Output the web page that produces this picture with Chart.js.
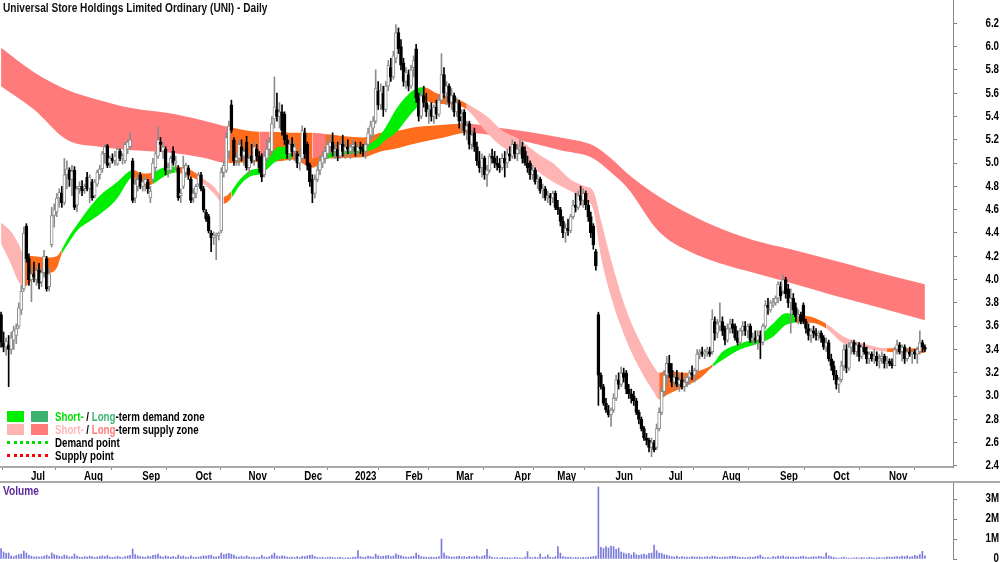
<!DOCTYPE html>
<html>
<head>
<meta charset="utf-8">
<script src="https://cdn.jsdelivr.net/npm/chart.js@4.4.1/dist/chart.umd.min.js"></script>
<style>
  body { margin: 0; background: #fff; }
  #wrap { position: relative; width: 1000px; height: 562px; overflow: hidden; background: #fff;
          font-family: 'Liberation Sans', Arial, sans-serif; font-weight: bold; }
  #price { position: absolute; left: 0; top: 0; }
  #volBox { position: absolute; left: 0; top: 481px; width: 1000px; height: 81px;
            border-top: 2px solid #a9a9a9; box-sizing: border-box; }
  #vol { display: block; }
  .narrow { display: inline-block; transform: scaleX(0.81); transform-origin: 0 50%; white-space: nowrap; }
  #title { position: absolute; left: 3px; top: 1px; font-size: 12.5px; color: #111; white-space: nowrap; }
  #volTitle { position: absolute; left: 3px; top: 484px; font-size: 12.5px; color: #5a2a9a; }
  #legend { position: absolute; left: 7px; top: 410px; font-size: 12px; color: #000; }
  .row { height: 13px; display: flex; align-items: center; white-space: nowrap; }
  .box { width: 17px; height: 11px; margin-right: 7px; }
  .dots { width: 41px; height: 0; margin-right: 7px; border-top: 3px dotted; }
</style>
</head>
<body>
<div id="wrap">
  <canvas id="price" width="1000" height="481"></canvas>
  <div id="volBox"><canvas id="vol" width="1000" height="79"></canvas></div>
  <div id="title"><span class="narrow">Universal Store Holdings Limited Ordinary (UNI) - Daily</span></div>
  <div id="volTitle"><span class="narrow">Volume</span></div>
  <div id="legend">
    <div class="row"><div class="box" style="background:#00ee00"></div><div class="box" style="background:#3cb371"></div>
      <span class="narrow"><span style="color:#00dd00">Short-</span> / <span style="color:#3cb371">Long</span>-term demand zone</span></div>
    <div class="row"><div class="box" style="background:#ffb4b4"></div><div class="box" style="background:#ff7b7b"></div>
      <span class="narrow"><span style="color:#ffb4b4">Short-</span> / <span style="color:#ff7b7b">Long</span>-term supply zone</span></div>
    <div class="row"><div class="dots" style="border-color:#00dd00"></div><span class="narrow">Demand point</span></div>
    <div class="row"><div class="dots" style="border-color:#ff0000"></div><span class="narrow">Supply point</span></div>
  </div>
</div>
<script>
// trading days shown (ASX calendar)
const firstDay = '2022-06-16';
const lastDay = '2023-11-22';
const holidays = ['2022-09-22', '2022-12-26', '2022-12-27', '2023-01-02', '2023-01-26',
                  '2023-04-07', '2023-04-10', '2023-04-25', '2023-06-12'];
const monthNames = ['Jan', 'Feb', 'Mar', 'Apr', 'May', 'Jun', 'Jul', 'Aug', 'Sep', 'Oct', 'Nov', 'Dec'];

const opens = [
  3.70,3.46,3.42,3.44,3.40,3.48,3.52,3.60,3.74,3.92, 4.46,4.18,4.00,4.05,4.00,4.08,3.98,4.06,4.18,3.94,
  4.30,4.55,4.58,4.70,4.74,4.66,4.90,4.94,4.86,4.94, 4.64,4.78,4.80,4.78,4.88,4.78,4.84,4.72,4.82,4.90,
  4.95,5.08,5.15,5.00,5.04,5.02,4.99,5.10,5.04,5.02, 5.12,5.14,5.02,4.70,4.80,4.90,4.80,4.82,4.84,4.70,
  4.86,4.96,5.06,5.18,5.10,5.12,4.94,4.94,5.10,5.00, 4.96,4.72,4.80,4.92,4.96,4.86,4.70,4.74,4.82,4.90,
  4.78,4.58,4.54,4.40,4.36,4.38,4.38,4.42,4.92,4.94, 5.10,5.50,5.20,5.02,5.04,5.14,5.06,5.18,4.96,5.06,
  5.02,5.12,5.06,5.06,4.90,5.04,5.12,5.10,5.38,5.46, 5.40,5.44,5.42,5.20,5.08,5.16,5.10,5.08,5.00,5.04,
  5.26,5.16,4.98,4.86,4.74,4.86,4.94,5.00,5.04,5.08, 5.14,5.18,5.10,5.12,5.06,5.16,5.10,5.14,5.10,5.14,
  5.14,5.10,5.14,5.12,5.10,5.16,5.24,5.30,5.36,5.62, 5.50,5.60,5.46,5.66,5.82,5.74,5.90,6.12,6.00,5.86,
  5.70,5.76,5.66,5.82,5.98,5.56,5.40,5.58,5.52,5.44, 5.46,5.40,5.48,5.42,5.54,5.76,5.60,5.66,5.52,5.58,
  5.44,5.52,5.40,5.44,5.28,5.34,5.16,5.26,5.14,5.02, 4.96,5.04,4.90,4.94,5.06,5.04,5.00,4.98,4.96,5.04,
  5.00,5.08,5.06,5.16,5.08,5.12,5.14,5.10,5.00,5.00, 4.90,4.94,4.84,4.86,4.76,4.78,4.70,4.72,4.70,4.74,
  4.62,4.60,4.50,4.40,4.44,4.42,4.54,4.64,4.62,4.72, 4.68,4.74,4.64,4.54,4.46,4.24,3.70,3.18,3.08,2.94,
  2.88,2.84,2.88,2.98,3.14,3.10,3.20,3.20,3.06,3.02, 3.00,2.96,2.86,2.80,2.72,2.64,2.62,2.56,2.60,2.56,
  2.72,2.86,3.04,3.18,3.28,3.22,3.12,3.16,3.10,3.14, 3.08,3.12,3.16,3.20,3.18,3.22,3.36,3.38,3.36,3.38,
  3.38,3.38,3.64,3.54,3.60,3.64,3.58,3.48,3.58,3.62, 3.60,3.50,3.46,3.56,3.60,3.56,3.60,3.48,3.50,3.48,
  3.52,3.46,3.60,3.78,3.74,3.78,3.80,3.84,3.94,3.90, 4.00,3.92,3.80,3.84,3.76,3.68,3.70,3.78,3.64,3.58,
  3.52,3.56,3.54,3.52,3.54,3.50,3.42,3.46,3.32,3.26, 3.18,3.10,3.14,3.26,3.40,3.24,3.42,3.46,3.38,3.44,
  3.34,3.42,3.38,3.32,3.36,3.32,3.34,3.30,3.32,3.34, 3.28,3.30,3.28,3.26,3.40,3.44,3.38,3.42,3.32,3.38,
  3.36,3.38,3.36,3.38,3.46,3.42
];
const highs = [
  3.72,3.55,3.50,3.52,3.55,3.60,3.62,3.80,3.95,4.45, 4.48,4.22,4.10,4.15,4.12,4.14,4.10,4.25,4.20,4.10,
  4.62,4.65,4.74,4.78,4.80,5.04,5.02,4.96,4.98,4.97, 4.80,4.84,4.85,4.82,4.92,4.90,4.86,4.86,4.94,4.98,
  5.10,5.16,5.16,5.06,5.08,5.10,5.14,5.12,5.08,5.18, 5.20,5.26,5.04,4.86,4.90,4.92,4.86,4.88,4.86,4.80,
  5.04,5.10,5.31,5.22,5.18,5.14,5.00,5.06,5.14,5.06, 4.98,4.78,5.06,5.00,4.98,4.88,4.78,4.82,4.92,4.92,
  4.80,4.60,4.56,4.42,4.41,4.40,4.41,4.96,5.02,5.26, 5.36,5.54,5.22,5.08,5.20,5.20,5.12,5.23,5.08,5.16,
  5.18,5.16,5.10,5.08,5.10,5.20,5.22,5.40,5.74,5.60, 5.52,5.50,5.44,5.24,5.20,5.22,5.18,5.10,5.12,5.32,
  5.30,5.18,5.00,4.90,4.90,4.98,5.06,5.10,5.14,5.20, 5.24,5.26,5.16,5.18,5.20,5.24,5.18,5.20,5.16,5.20,
  5.18,5.16,5.18,5.16,5.18,5.30,5.36,5.40,5.80,5.70, 5.68,5.66,5.70,5.88,5.90,5.96,6.19,6.16,6.06,5.90,
  5.82,5.80,5.84,5.92,6.02,5.60,5.62,5.66,5.60,5.50, 5.52,5.50,5.54,5.58,5.94,5.82,5.70,5.68,5.64,5.60,
  5.56,5.54,5.46,5.46,5.36,5.36,5.28,5.30,5.18,5.10, 5.08,5.06,4.98,5.08,5.12,5.10,5.06,5.04,5.08,5.10,
  5.12,5.14,5.20,5.18,5.16,5.20,5.18,5.14,5.06,5.02, 4.98,4.96,4.90,4.88,4.82,4.80,4.76,4.74,4.76,4.76,
  4.68,4.62,4.54,4.48,4.52,4.56,4.68,4.74,4.76,4.80, 4.78,4.76,4.68,4.58,4.48,4.26,3.72,3.20,3.10,2.98,
  2.92,2.90,3.02,3.18,3.20,3.25,3.24,3.22,3.10,3.06, 3.04,2.98,2.88,2.82,2.74,2.68,2.64,2.64,2.62,2.76,
  2.90,3.08,3.22,3.34,3.35,3.28,3.20,3.22,3.18,3.20, 3.16,3.18,3.22,3.26,3.24,3.40,3.40,3.42,3.40,3.42,
  3.42,3.74,3.68,3.66,3.80,3.68,3.60,3.62,3.66,3.66, 3.62,3.56,3.58,3.64,3.64,3.62,3.62,3.54,3.56,3.56,
  3.56,3.62,3.82,3.84,3.82,3.84,3.86,3.98,3.98,4.04, 4.02,3.96,3.92,3.88,3.80,3.74,3.72,3.80,3.66,3.62,
  3.58,3.60,3.58,3.56,3.56,3.52,3.50,3.48,3.36,3.30, 3.22,3.16,3.30,3.44,3.44,3.46,3.48,3.48,3.46,3.46,
  3.44,3.46,3.42,3.38,3.38,3.40,3.38,3.36,3.38,3.36, 3.34,3.32,3.32,3.42,3.48,3.46,3.44,3.44,3.40,3.42,
  3.40,3.40,3.42,3.56,3.48,3.44
];
const lows = [
  3.42,3.38,3.35,3.08,3.36,3.40,3.45,3.58,3.70,3.90, 4.15,3.95,3.81,3.98,3.95,3.92,3.94,4.02,3.90,3.90,
  4.28,4.45,4.54,4.62,4.62,4.64,4.78,4.80,4.72,4.60, 4.58,4.74,4.72,4.74,4.76,4.66,4.68,4.70,4.80,4.86,
  4.92,5.00,4.96,4.96,5.00,4.98,4.98,5.02,4.99,5.00, 5.08,5.12,4.66,4.66,4.76,4.78,4.76,4.76,4.74,4.66,
  4.84,4.92,5.04,5.10,5.04,4.90,4.88,4.92,4.98,4.94, 4.68,4.66,4.78,4.88,4.86,4.66,4.66,4.70,4.80,4.76,
  4.58,4.50,4.40,4.24,4.30,4.17,4.34,4.40,4.88,4.92, 5.04,5.26,4.98,4.98,4.98,5.02,4.98,4.94,4.90,5.00,
  4.98,5.02,4.92,4.84,4.88,5.02,5.06,5.08,5.30,5.36, 5.30,5.24,5.16,5.04,5.02,5.06,5.02,4.96,4.94,5.02,
  5.04,4.94,4.80,4.66,4.70,4.84,4.90,4.96,5.00,5.04, 5.08,5.06,5.04,5.02,5.04,5.06,5.04,5.08,5.04,5.08,
  5.06,5.06,5.08,5.06,5.04,5.14,5.20,5.22,5.34,5.46, 5.46,5.40,5.44,5.62,5.70,5.72,5.86,5.94,5.80,5.66,
  5.64,5.62,5.64,5.74,5.52,5.36,5.38,5.48,5.40,5.34, 5.36,5.34,5.38,5.40,5.52,5.56,5.50,5.48,5.46,5.40,
  5.40,5.30,5.26,5.24,5.20,5.12,5.12,5.10,4.98,4.92, 4.88,4.86,4.80,4.92,5.00,4.96,4.94,4.92,4.94,4.88,
  4.96,5.02,5.04,5.04,5.02,5.08,5.00,4.98,4.92,4.86, 4.86,4.82,4.78,4.74,4.70,4.68,4.66,4.64,4.66,4.60,
  4.56,4.46,4.36,4.32,4.38,4.40,4.52,4.58,4.60,4.64, 4.62,4.60,4.50,4.36,4.26,4.08,2.92,3.06,2.92,2.86,
  2.82,2.74,2.86,2.96,3.06,3.08,3.12,3.02,2.98,2.94, 2.92,2.84,2.76,2.70,2.62,2.58,2.52,2.48,2.52,2.54,
  2.70,2.84,3.00,3.10,3.16,3.08,3.06,3.08,3.04,3.06, 3.04,3.08,3.10,3.14,3.12,3.20,3.32,3.34,3.32,3.34,
  3.34,3.36,3.48,3.50,3.56,3.52,3.44,3.46,3.54,3.54, 3.48,3.44,3.44,3.52,3.52,3.50,3.46,3.44,3.46,3.40,
  3.32,3.44,3.58,3.70,3.72,3.76,3.78,3.80,3.82,3.88, 3.84,3.76,3.54,3.70,3.64,3.62,3.62,3.62,3.54,3.48,
  3.46,3.50,3.48,3.48,3.46,3.40,3.38,3.30,3.22,3.14, 3.06,3.03,3.12,3.22,3.20,3.22,3.36,3.36,3.34,3.30,
  3.32,3.36,3.28,3.28,3.30,3.28,3.26,3.24,3.28,3.24, 3.24,3.26,3.24,3.26,3.36,3.36,3.30,3.28,3.30,3.34,
  3.28,3.32,3.28,3.36,3.38,3.38
];
const closes = [
  3.46,3.42,3.47,3.40,3.50,3.56,3.58,3.76,3.90,4.40, 4.18,4.00,4.05,4.02,4.08,3.97,4.06,4.20,3.92,4.05,
  4.55,4.60,4.70,4.75,4.66,4.90,4.95,4.86,4.93,4.62, 4.78,4.80,4.76,4.80,4.78,4.88,4.70,4.84,4.92,4.95,
  5.08,5.14,4.98,5.04,5.02,5.06,5.12,5.04,5.06,5.16, 5.18,5.20,4.68,4.82,4.86,4.80,4.84,4.86,4.78,4.76,
  5.00,5.08,5.20,5.16,5.14,4.94,4.96,5.04,5.00,5.02, 4.70,4.74,4.96,4.98,4.90,4.68,4.74,4.80,4.90,4.78,
  4.60,4.52,4.42,4.36,4.38,4.39,4.40,4.92,4.98,5.22, 5.32,5.28,5.02,5.05,5.16,5.06,5.10,4.96,5.04,5.02,
  5.14,5.06,4.96,4.88,5.06,5.12,5.18,5.34,5.48,5.40, 5.44,5.28,5.20,5.08,5.16,5.10,5.14,5.00,5.06,5.28,
  5.08,4.98,4.84,4.74,4.86,4.94,5.02,5.06,5.10,5.16, 5.18,5.10,5.12,5.06,5.16,5.10,5.14,5.12,5.14,5.16,
  5.10,5.14,5.12,5.10,5.16,5.26,5.32,5.36,5.64,5.50, 5.62,5.46,5.66,5.84,5.74,5.92,6.12,5.98,5.84,5.70,
  5.78,5.66,5.80,5.88,5.56,5.40,5.58,5.52,5.44,5.46, 5.40,5.48,5.42,5.54,5.76,5.60,5.66,5.52,5.58,5.44,
  5.52,5.36,5.42,5.28,5.32,5.16,5.24,5.14,5.02,4.96, 5.04,4.90,4.94,5.06,5.04,5.00,4.98,4.96,5.04,5.00,
  5.08,5.06,5.16,5.08,5.12,5.14,5.04,5.00,4.96,4.90, 4.94,4.84,4.86,4.76,4.78,4.70,4.72,4.70,4.74,4.62,
  4.60,4.50,4.40,4.44,4.42,4.54,4.64,4.62,4.72,4.68, 4.74,4.64,4.54,4.40,4.30,4.12,3.18,3.08,2.94,2.88,
  2.84,2.88,2.98,3.14,3.10,3.20,3.16,3.06,3.02,2.98, 2.96,2.86,2.80,2.72,2.64,2.62,2.56,2.60,2.54,2.72,
  2.86,3.04,3.18,3.28,3.20,3.12,3.16,3.10,3.14,3.08, 3.12,3.16,3.20,3.18,3.22,3.36,3.38,3.36,3.38,3.40,
  3.36,3.66,3.54,3.62,3.64,3.56,3.48,3.58,3.62,3.58, 3.50,3.46,3.56,3.60,3.56,3.60,3.48,3.50,3.48,3.52,
  3.46,3.60,3.78,3.76,3.80,3.80,3.84,3.96,3.86,4.00, 3.88,3.80,3.84,3.74,3.68,3.70,3.64,3.64,3.58,3.52,
  3.56,3.54,3.52,3.54,3.50,3.42,3.46,3.32,3.26,3.18, 3.10,3.14,3.26,3.40,3.24,3.42,3.46,3.38,3.44,3.34,
  3.42,3.38,3.32,3.36,3.32,3.34,3.30,3.32,3.34,3.28, 3.30,3.28,3.26,3.40,3.44,3.38,3.42,3.32,3.38,3.36,
  3.38,3.36,3.40,3.46,3.42,3.40
];
// daily volume, millions of shares
const volumes = [
  0.52,0.35,0.28,0.30,0.15,0.12,0.18,0.22,0.25,0.40, 0.30,0.18,0.14,0.10,0.12,0.09,0.11,0.15,0.20,0.12,
  0.30,0.22,0.18,0.14,0.12,0.20,0.16,0.10,0.12,0.25, 0.14,0.10,0.08,0.12,0.10,0.15,0.12,0.08,0.10,0.13,
  0.16,0.12,0.18,0.09,0.08,0.10,0.14,0.09,0.07,0.12, 0.15,0.18,0.50,0.22,0.16,0.12,0.10,0.09,0.14,0.12,
  0.18,0.20,0.25,0.14,0.10,0.16,0.12,0.10,0.13,0.09, 0.20,0.12,0.15,0.10,0.08,0.16,0.09,0.08,0.10,0.12,
  0.16,0.14,0.18,0.20,0.12,0.10,0.14,0.30,0.22,0.25, 0.28,0.24,0.20,0.12,0.10,0.14,0.09,0.16,0.10,0.08,
  0.10,0.07,0.09,0.18,0.10,0.08,0.12,0.20,0.30,0.14, 0.12,0.16,0.14,0.10,0.08,0.09,0.07,0.12,0.08,0.14,
  0.12,0.16,0.18,0.20,0.12,0.08,0.07,0.09,0.06,0.08, 0.10,0.08,0.06,0.07,0.09,0.06,0.05,0.07,0.06,0.08,
  0.10,0.42,0.12,0.08,0.10,0.14,0.12,0.10,0.24,0.16, 0.12,0.14,0.16,0.18,0.12,0.15,0.26,0.20,0.16,0.12,
  0.10,0.09,0.12,0.14,0.30,0.20,0.12,0.10,0.09,0.08, 0.10,0.08,0.09,0.12,1.00,0.30,0.16,0.12,0.10,0.09,
  0.12,0.14,0.10,0.12,0.09,0.14,0.10,0.12,0.16,0.10, 0.12,0.18,0.48,0.14,0.08,0.06,0.07,0.05,0.08,0.06,
  0.07,0.06,0.05,0.08,0.07,0.06,0.05,0.09,0.37,0.08, 0.06,0.09,0.07,0.25,0.08,0.10,0.20,0.09,0.07,0.12,
  0.62,0.30,0.12,0.10,0.08,0.09,0.06,0.08,0.07,0.06, 0.08,0.07,0.09,0.10,0.12,0.14,3.60,0.58,0.52,0.62,
  0.55,0.65,0.62,0.48,0.55,0.35,0.30,0.25,0.28,0.20, 0.32,0.22,0.18,0.22,0.25,0.20,0.28,0.30,0.70,0.42,
  0.30,0.28,0.22,0.20,0.15,0.12,0.10,0.14,0.08,0.12, 0.10,0.09,0.08,0.12,0.10,0.09,0.11,0.08,0.10,0.12,
  0.09,0.14,0.12,0.10,0.08,0.09,0.11,0.10,0.12,0.14, 0.13,0.10,0.08,0.09,0.07,0.08,0.10,0.09,0.12,0.14,
  0.20,0.10,0.06,0.08,0.05,0.12,0.10,0.14,0.12,0.16, 0.10,0.12,0.09,0.11,0.08,0.10,0.12,0.14,0.09,0.08,
  0.10,0.12,0.09,0.14,0.12,0.10,0.30,0.16,0.12,0.08, 0.06,0.05,0.07,0.09,0.06,0.05,0.04,0.06,0.07,0.05,
  0.08,0.06,0.05,0.09,0.07,0.05,0.06,0.08,0.06,0.07, 0.09,0.10,0.08,0.11,0.12,0.10,0.14,0.12,0.16,0.10,
  0.12,0.18,0.15,0.22,0.38,0.16
];

// long-term zone edges (day index -> price)
const longIdx = [0, 13, 26, 39, 52, 66, 79, 90, 102, 106, 117, 123, 128, 143, 150, 157, 164, 175, 184, 194,
                 208, 221, 234, 241, 247, 260, 272, 284, 297, 312, 328, 345, 365];
const longTop = [5.99, 5.78, 5.63, 5.54, 5.47, 5.43, 5.37, 5.31, 5.27, 5.27, 5.26, 5.26, 5.25, 5.22, 5.26, 5.28,
                 5.31, 5.33, 5.34, 5.31, 5.27, 5.22, 5.15, 5.04, 4.92, 4.71, 4.56, 4.44, 4.34, 4.26, 4.17, 4.07, 3.96];
const longBot = [5.66, 5.46, 5.20, 5.14, 5.11, 5.09, 5.05, 5.00, 5.01, 5.01, 5.03, 5.03, 5.04, 5.05, 5.10, 5.13,
                 5.17, 5.22, 5.26, 5.24, 5.18, 5.11, 5.04, 4.92, 4.80, 4.41, 4.24, 4.14, 4.06, 3.97, 3.87, 3.77, 3.65];
const longZoneStart = [0, 90, 102, 106, 123, 128, 184];
const longZoneType = ['supply', 'neutral', 'supply', 'neutral', 'supply', 'neutral', 'supply'];

// short-term zone edges
const shortIdx = [0, 4, 7, 9, 13, 18, 22, 24, 26, 30, 35, 39, 46, 50, 52, 56, 60, 64, 69, 75, 79, 84, 88, 91, 94,
                  98, 103, 110, 115, 123, 128, 135, 142, 146, 149, 152, 156, 160, 164, 167, 172, 179, 184, 192,
                  198, 205, 212, 218, 225, 231, 234, 237, 241, 247, 254, 258, 260, 263, 270, 276, 281, 285, 292,
                  299, 305, 310, 314, 320, 326, 333, 341, 350, 358, 365];
const shortTop = [4.49, 4.41, 4.30, 4.21, 4.20, 4.19, 4.20, 4.26, 4.34, 4.47, 4.62, 4.72, 4.84, 4.92, 4.94, 4.91,
                  4.92, 4.96, 4.97, 4.94, 4.88, 4.80, 4.71, 4.76, 4.85, 4.93, 4.97, 5.14, 5.14, 5.04, 5.08, 5.12,
                  5.14, 5.17, 5.22, 5.31, 5.46, 5.57, 5.64, 5.65, 5.60, 5.56, 5.51, 5.40, 5.28, 5.20, 5.08, 5.00,
                  4.86, 4.80, 4.76, 4.51, 4.17, 3.74, 3.40, 3.25, 3.20, 3.22, 3.20, 3.22, 3.27, 3.38, 3.45, 3.51,
                  3.62, 3.71, 3.70, 3.68, 3.62, 3.51, 3.45, 3.41, 3.41, 3.41];
const shortBot = [4.31, 4.13, 3.98, 3.94, 4.01, 4.05, 4.10, 4.22, 4.29, 4.42, 4.50, 4.56, 4.70, 4.84, 4.88, 4.80,
                  4.82, 4.88, 4.92, 4.88, 4.84, 4.74, 4.65, 4.70, 4.80, 4.88, 4.91, 5.03, 5.04, 4.96, 5.03, 5.07,
                  5.09, 5.11, 5.14, 5.20, 5.26, 5.37, 5.47, 5.53, 5.51, 5.50, 5.46, 5.26, 5.14, 5.07, 4.93, 4.84,
                  4.76, 4.68, 4.60, 4.20, 3.85, 3.48, 3.17, 3.03, 2.97, 3.01, 3.08, 3.15, 3.25, 3.31, 3.40, 3.45,
                  3.51, 3.61, 3.63, 3.63, 3.58, 3.45, 3.41, 3.38, 3.37, 3.37];
const shortZoneStart = [0, 9, 24, 52, 60, 69, 79, 88, 91, 115, 128, 167, 184, 260, 281, 314, 326, 350];
const shortZoneType = ['supply', 'neutral', 'demand', 'neutral', 'demand', 'neutral', 'supply', 'neutral', 'demand',
                       'neutral', 'demand', 'neutral', 'supply', 'neutral', 'demand', 'neutral', 'supply', 'neutral'];

const priceTicks = [2.4, 2.6, 2.8, 3.0, 3.2, 3.4, 3.6, 3.8, 4.0, 4.2, 4.4, 4.6, 4.8, 5.0, 5.2, 5.4, 5.6, 5.8, 6.0, 6.2];
const volumeTicks = [0, 1, 2, 3];

function tradingDays(from, to, skip) {
  const out = [];
  const d = new Date(from + 'T00:00:00Z');
  const end = new Date(to + 'T00:00:00Z');
  while (d <= end) {
    const s = d.toISOString().slice(0, 10);
    const wd = d.getUTCDay();
    if (wd !== 0 && wd !== 6 && !skip.includes(s)) out.push(s);
    d.setUTCDate(d.getUTCDate() + 1);
  }
  return out;
}

const dates = tradingDays(firstDay, lastDay, holidays);

// first trading day of every month gets a tick
const monthTicks = [];
dates.forEach((s, i) => {
  if (i === 0) return;
  if (s.slice(5, 7) !== dates[i - 1].slice(5, 7)) {
    const m = +s.slice(5, 7) - 1;
    monthTicks.push({ i: i, label: m === 0 ? s.slice(0, 4) : monthNames[m] });
  }
});

const shortColors = { demand: '#00ee00', supply: '#ffb4b4', neutral: '#ff6c1c' };
const longColors = { demand: '#3cb371', supply: '#ff7b7b', neutral: '#ff6c1c' };

function zoneColor(starts, types, colors) {
  return ctx => {
    const x = (ctx.p0.parsed.x + ctx.p1.parsed.x) / 2;
    let t = types[0];
    for (let k = 0; k < starts.length; k++) if (x >= starts[k]) t = types[k];
    return colors[t];
  };
}

function band(idx, vals, fill, order, segColor) {
  return {
    type: 'line',
    data: idx.map((x, k) => ({ x: x, y: vals[k] })),
    fill: fill,
    order: order,
    borderWidth: 0,
    borderColor: 'rgba(0,0,0,0)',
    backgroundColor: 'rgba(0,0,0,0)',
    pointRadius: 0,
    cubicInterpolationMode: 'monotone',
    segment: segColor ? { backgroundColor: segColor } : undefined
  };
}

const isUp = i => closes[i] >= opens[i];

const fontFamily = "'Liberation Sans', Arial, sans-serif";
Chart.defaults.font.family = fontFamily;
Chart.defaults.font.size = 12;
Chart.defaults.font.weight = 'bold';
Chart.defaults.color = '#000';

// the original uses a narrow bold face: draw axis labels horizontally squeezed
function narrowText(ctx, text, x, y, align) {
  ctx.save();
  ctx.translate(x, y);
  ctx.scale(0.81, 1);
  ctx.textAlign = align;
  ctx.textBaseline = 'middle';
  ctx.fillText(text, 0, 0);
  ctx.restore();
}

const priceLabels = {
  id: 'priceLabels',
  afterDraw(chart) {
    const ctx = chart.ctx;
    const x = chart.scales.x, y = chart.scales.y;
    ctx.save();
    ctx.font = 'bold 12px ' + fontFamily;
    ctx.fillStyle = '#000';
    monthTicks.forEach(t => narrowText(ctx, t.label, x.getPixelForValue(t.i) + 2, x.top + 9.5, 'left'));
    priceTicks.forEach(v => narrowText(ctx, v.toFixed(1), 999, y.getPixelForValue(v), 'right'));
    ctx.restore();
  }
};

const volumeLabels = {
  id: 'volumeLabels',
  afterDraw(chart) {
    const ctx = chart.ctx;
    const y = chart.scales.y;
    ctx.save();
    ctx.font = 'bold 12px ' + fontFamily;
    ctx.fillStyle = '#000';
    volumeTicks.forEach(v => narrowText(ctx, v === 0 ? '0' : v + 'M', 999, y.getPixelForValue(v), 'right'));
    ctx.restore();
  }
};

const xMin = -0.42;
const xMax = 376.1;
const yMin = 2.391;
const yMax = 6.4;

new Chart(document.getElementById('price'), {
  type: 'bar',
  data: {
    datasets: [
      band(longIdx, longTop, 1, 5, zoneColor(longZoneStart, longZoneType, longColors)),
      band(longIdx, longBot, false, 5, null),
      band(shortIdx, shortTop, 3, 4, zoneColor(shortZoneStart, shortZoneType, shortColors)),
      band(shortIdx, shortBot, false, 4, null),
      {
        // high-low wicks
        type: 'bar',
        data: dates.map((d, i) => ({ x: i, y: [lows[i], highs[i]] })),
        order: 2,
        grouped: false,
        barThickness: 1,
        borderWidth: 0,
        backgroundColor: c => isUp(c.dataIndex) ? '#8c8c8c' : '#000000'
      },
      {
        // open-close bodies
        type: 'bar',
        data: dates.map((d, i) => ({ x: i, y: [opens[i], closes[i]] })),
        order: 1,
        grouped: false,
        barThickness: 3,
        minBarLength: 1,
        borderWidth: 1,
        borderSkipped: false,
        borderColor: c => isUp(c.dataIndex) ? '#8c8c8c' : '#000000',
        backgroundColor: c => isUp(c.dataIndex) ? '#ffffff' : '#000000'
      }
    ]
  },
  options: {
    responsive: false,
    animation: false,
    layout: { padding: 0 },
    plugins: { legend: { display: false }, tooltip: { enabled: false } },
    scales: {
      x: {
        type: 'linear',
        min: xMin,
        max: xMax,
        offset: false,
        afterBuildTicks: s => { s.ticks = monthTicks.map(t => ({ value: t.i })); },
        afterFit: s => { s.height = 14; s.paddingLeft = 0; s.paddingRight = 0; },
        ticks: { display: false, autoSkip: false, maxRotation: 0 },
        grid: { drawOnChartArea: false, drawTicks: true, tickLength: 3, tickColor: '#909090' },
        border: { display: true, color: '#a9a9a9', width: 2 }
      },
      y: {
        position: 'right',
        min: yMin,
        max: yMax,
        afterBuildTicks: s => { s.ticks = priceTicks.map(v => ({ value: v })); },
        afterFit: s => { s.width = 47; s.paddingTop = 0; s.paddingBottom = 0; },
        ticks: { display: false, autoSkip: false },
        grid: { drawOnChartArea: false, drawTicks: true, tickLength: 4, tickColor: '#808080' },
        border: { display: true, color: '#8a8a8a', width: 1 }
      }
    }
  },
  plugins: [priceLabels]
});

new Chart(document.getElementById('vol'), {
  type: 'bar',
  data: {
    datasets: [{
      data: dates.map((d, i) => ({ x: i, y: volumes[i] })),
      barThickness: 1,
      borderWidth: 0,
      backgroundColor: '#7b7bdb'
    }]
  },
  options: {
    responsive: false,
    animation: false,
    layout: { padding: { top: 0, bottom: 3, left: 0, right: 0 } },
    plugins: { legend: { display: false }, tooltip: { enabled: false } },
    scales: {
      x: { type: 'linear', min: xMin, max: xMax, offset: false, display: false },
      y: {
        position: 'right',
        min: 0,
        max: 3.8,
        afterBuildTicks: s => { s.ticks = volumeTicks.map(v => ({ value: v })); },
        afterFit: s => { s.width = 47; s.paddingTop = 0; s.paddingBottom = 0; },
        ticks: { display: false, autoSkip: false },
        grid: { drawOnChartArea: false, drawTicks: true, tickLength: 4, tickColor: '#808080' },
        border: { display: true, color: '#8a8a8a', width: 1 }
      }
    }
  },
  plugins: [volumeLabels]
});
</script>
</body>
</html>
